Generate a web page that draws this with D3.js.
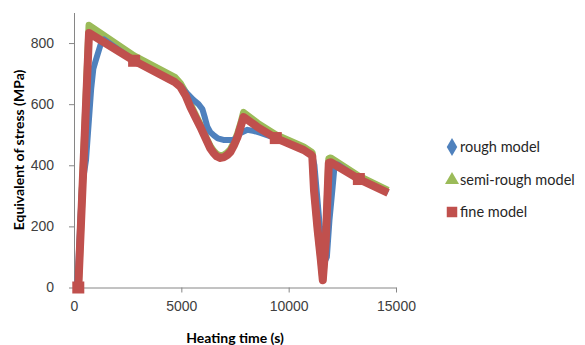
<!DOCTYPE html>
<html>
<head>
<meta charset="utf-8">
<script src="https://cdn.jsdelivr.net/npm/d3@7"></script>
<style>
  body { margin: 0; background: #fff; }
  svg { display: block; font-family: Lato, "Open Sans", sans-serif; }
  .axis path, .axis line { stroke: #868686; }
  .axis text { fill: #404040; font-size: 14px; }
  .title { font-weight: bold; font-size: 14px; fill: #000; }
  .legend text { font-size: 14.5px; fill: #262626; }
</style>
</head>
<body>
<div id="chart"></div>
<script>
// rough model (blue)
var roughTime = [150, 370, 560, 800, 900, 1000, 1260, 1400, 2800, 4700, 4950, 5200, 5560, 5800, 5980, 6100, 6210, 6350, 6500, 6700, 6960, 7430, 7600, 7760, 8080, 8400, 8690, 9400, 10700, 11100, 11200, 11450, 11650, 11780, 11900, 12050, 12120, 12300, 13270, 14630]
var roughStress = [0, 329, 417, 650, 715, 740, 800, 812, 742, 672, 660, 640, 614, 600, 584, 555, 526, 508, 499, 488, 483, 483, 492, 506, 516, 512, 506, 489, 450, 430, 400, 200, 80, 100, 220, 330, 385, 402, 355, 310]

// semi-rough model (green)
var semiTime = [200, 700, 2800, 4700, 4950, 5200, 5420, 5650, 5890, 6050, 6210, 6350, 6500, 6650, 6820, 7000, 7150, 7290, 7450, 7620, 7780, 7900, 8550, 9400, 10700, 11050, 11100, 11180, 11350, 11500, 11590, 11730, 11820, 11870, 11960, 13270, 14630]
var semiStress = [0, 858, 758, 688, 668, 638, 600, 566, 532, 506, 482, 462, 447, 436, 431, 434, 442, 452, 474, 503, 540, 573, 538, 500, 460, 444, 440, 325, 190, 92, 26, 160, 325, 422, 424, 364, 318]

// fine model (red)
var fineTime = [200, 700, 2800, 4700, 4950, 5200, 5420, 5650, 5890, 6050, 6210, 6350, 6500, 6650, 6820, 7000, 7150, 7290, 7450, 7620, 7780, 7900, 8550, 9400, 10700, 11050, 11100, 11180, 11350, 11500, 11590, 11730, 11820, 11870, 11960, 13270, 14630]
var fineStress = [0, 833, 742, 672, 657, 628, 591, 558, 525, 500, 476, 455, 440, 429, 424, 427, 434, 444, 465, 493, 530, 558, 525, 489, 450, 434, 430, 318, 188, 90, 24, 155, 319, 408, 410, 355, 310]
// where the square markers show on the red line
var fineMarkTime = [200, 2800, 9400, 13270]
var fineMarkStress = [0, 742, 489, 355]

var xTicks = [0, 5000, 10000, 15000]
var yTicks = [0, 200, 400, 600, 800]
var seriesNames = ["rough model", "semi-rough model", "fine model"]
var colors = ["#4F81BD", "#9BBB59", "#C0504D"]

var width = 585, height = 345

var svg = d3.select("#chart").append("svg")
  .attr("width", width)
  .attr("height", height)

var x = d3.scaleLinear().domain([0, 15000]).range([74, 396])
var y = d3.scaleLinear().domain([0, 900]).range([287.5, 12.5])

svg.append("g")
  .attr("class", "axis")
  .attr("transform", "translate(0," + y(0) + ")")
  .call(d3.axisBottom(x).tickValues(xTicks).tickFormat(d3.format("d"))
    .tickSize(5).tickSizeOuter(0).tickPadding(9))

svg.append("g")
  .attr("class", "axis")
  .attr("transform", "translate(" + x(0) + ",0)")
  .call(d3.axisLeft(y).tickValues(yTicks).tickFormat(d3.format("d"))
    .tickSize(5).tickSizeOuter(0).tickPadding(15))

function zip(t, v) {
  return t.map(function(d, i) { return [d, v[i]] })
}

var line = d3.line()
  .x(function(d) { return x(d[0]) })
  .y(function(d) { return y(d[1]) })

// green under, blue over green, red on top
svg.append("path")
  .datum(zip(semiTime, semiStress))
  .attr("d", line)
  .attr("fill", "none")
  .attr("stroke", colors[1])
  .attr("stroke-width", 7)
  .attr("stroke-linejoin", "round")

svg.append("path")
  .datum(zip(roughTime, roughStress))
  .attr("d", line)
  .attr("fill", "none")
  .attr("stroke", colors[0])
  .attr("stroke-width", 6)
  .attr("stroke-linejoin", "round")

svg.append("path")
  .datum(zip(fineTime, fineStress))
  .attr("d", line)
  .attr("fill", "none")
  .attr("stroke", colors[2])
  .attr("stroke-width", 8)
  .attr("stroke-linejoin", "round")

svg.selectAll(".fmark")
  .data(zip(fineMarkTime, fineMarkStress))
  .enter().append("rect")
  .attr("class", "fmark")
  .attr("x", function(d) { return x(d[0]) - 6 })
  .attr("y", function(d) { return y(d[1]) - 6 })
  .attr("width", 12)
  .attr("height", 12)
  .attr("fill", colors[2])

// axis titles
svg.append("text")
  .attr("class", "title")
  .attr("x", 235)
  .attr("y", 343)
  .attr("text-anchor", "middle")
  .text("Heating time (s)")

svg.append("text")
  .attr("class", "title")
  .attr("transform", "translate(24,150) rotate(-90)")
  .attr("text-anchor", "middle")
  .text("Equivalent of stress (MPa)")

// legend
var legend = svg.append("g").attr("class", "legend")
var legY = [147, 180, 212]
var symbols = [d3.symbolDiamond, d3.symbolTriangle, d3.symbolSquare]
var symSizes = [95, 85, 110]

seriesNames.forEach(function(name, i) {
  legend.append("path")
    .attr("transform", "translate(452," + legY[i] + ")")
    .attr("d", d3.symbol().type(symbols[i]).size(symSizes[i]))
    .attr("fill", colors[i])
  legend.append("text")
    .attr("x", 460)
    .attr("y", legY[i])
    .attr("dy", "0.35em")
    .text(name)
})
</script>
</body>
</html>
